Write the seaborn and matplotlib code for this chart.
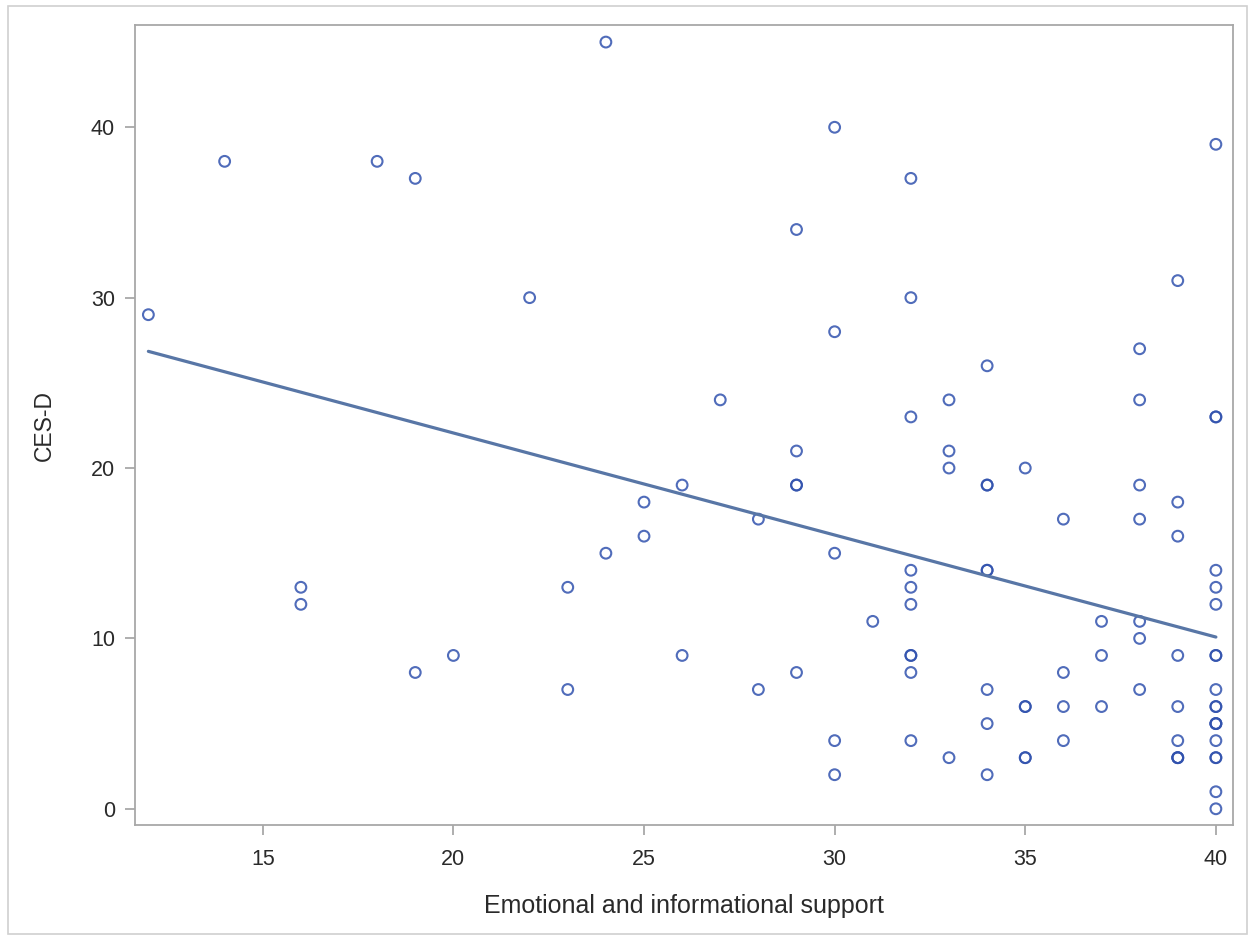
import numpy as np
import matplotlib
matplotlib.use("Agg")
import matplotlib.pyplot as plt
import pandas as pd
import seaborn as sns

# Emotional and informational support (x) vs CES-D (y), one entry per subject
support = [12, 14, 16, 16, 18, 19, 19, 20, 22, 23, 23, 24, 24, 25, 25, 26, 26, 27,
           28, 28, 29, 29, 29, 29, 29, 30, 30, 30, 30, 30, 31,
           32, 32, 32, 32, 32, 32, 32, 32, 32, 32,
           33, 33, 33, 33,
           34, 34, 34, 34, 34, 34, 34, 34,
           35, 35, 35, 35, 35,
           36, 36, 36, 36, 37, 37, 37,
           38, 38, 38, 38, 38, 38, 38,
           39, 39, 39, 39, 39, 39, 39, 39, 39,
           40, 40, 40, 40, 40, 40, 40, 40, 40, 40, 40, 40, 40, 40, 40, 40, 40, 40, 40]
cesd = [29, 38, 13, 12, 38, 37, 8, 9, 30, 13, 7, 45, 15, 18, 16, 19, 9, 24,
        17, 7, 34, 21, 19, 19, 8, 40, 28, 15, 4, 2, 11,
        37, 30, 23, 14, 13, 12, 9, 9, 8, 4,
        24, 21, 20, 3,
        26, 19, 19, 14, 14, 7, 5, 2,
        20, 6, 6, 3, 3,
        17, 8, 6, 4, 11, 9, 6,
        27, 24, 19, 17, 11, 10, 7,
        31, 18, 16, 9, 6, 4, 3, 3, 3,
        39, 23, 23, 14, 13, 12, 9, 9, 7, 6, 6, 5, 5, 5, 4, 3, 3, 1, 0]

df = pd.DataFrame({"support": support, "cesd": cesd})

sns.set_style("white")
plt.rcParams['font.family'] = ['Liberation Sans', 'DejaVu Sans']

fig = plt.figure(figsize=(12.55, 9.38), dpi=100)
ax = fig.add_axes([0.1076, 0.1205, 0.8749, 0.8528])

sns.regplot(data=df, x="support", y="cesd", ax=ax, ci=None, truncate=True,
            marker="o",
            scatter_kws={"s": 60, "facecolors": "none", "edgecolors": "#3152AE",
                         "linewidths": 1.5, "alpha": 0.85},
            line_kws={"color": "#5876A6", "linewidth": 2.3})

ax.set_xlim(11.65, 40.45)
ax.set_ylim(-0.95, 46.0)
ax.set_xticks([15, 20, 25, 30, 35, 40])
ax.set_yticks([0, 10, 20, 30, 40])
ax.set_xlabel("Emotional and informational support", fontsize=18, labelpad=17,
              color="#2A2A2A")
ax.set_ylabel("CES-D", fontsize=16.5, labelpad=25, color="#2A2A2A")
ax.tick_params(axis="x", pad=10)
ax.tick_params(axis="y", pad=7)
ax.tick_params(axis="both", labelsize=15.5, length=7.5, width=1.3, color="#A8A8A8",
               labelcolor="#2A2A2A", direction="out", bottom=True, left=True)

for sp in ax.spines.values():
    sp.set_color("#A8A8A8")
    sp.set_linewidth(1.3)

# light frame around the whole graph
fig.patches.append(plt.Rectangle((0.006, 0.004), 0.988, 0.99, transform=fig.transFigure,
                                 fill=False, edgecolor="#D0D0D0", linewidth=1.2))

fig.savefig("out.png", dpi=100)
